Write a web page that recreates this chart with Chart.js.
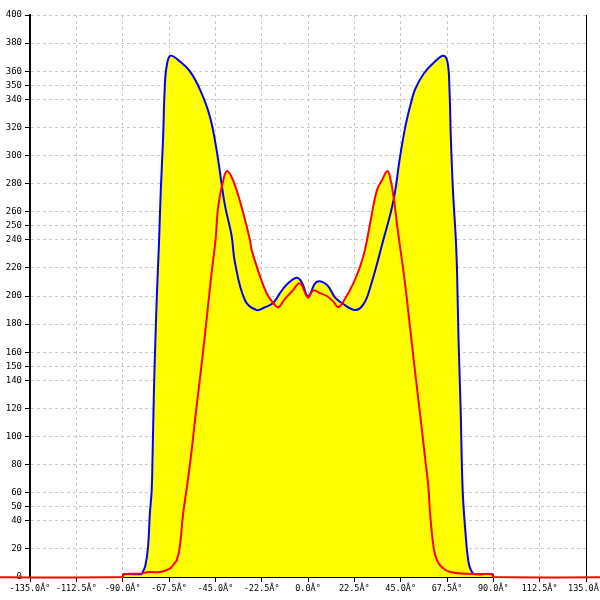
<!DOCTYPE html>
<html>
<head>
<meta charset="utf-8">
<script src="https://cdn.jsdelivr.net/npm/chart.js@4"></script>
<style>
    body { margin: 0; background: #fff; }
    #chart { display: block; }
</style>
</head>
<body>
<canvas id="chart" width="600" height="600"></canvas>
<script>
// blue curve (angle in degrees / value)
const blueAngles = [-90, -89.5, -81, -80.3, -79, -77.7, -76.8, -75.9, -75.5, -74.8, -74.1, -73.3, -72.3, -71.5, -70.4, -69.6, -68.7, -66.8,
    -62.3, -57.4, -52.5, -47.7, -44.4, -40.4, -37.1, -35.5, -30.6, -25, -20.9, -16.9, -13.6, -10.4, -5.5, -3.1, 0.1,
    4.2, 9.1, 13.1, 16.4, 22.9, 26.9, 30.2, 36.6, 41.5, 44.7, 47.2, 49.6, 52, 56.1, 61, 65.8, 67.8, 68.7, 69.4, 70.4,
    71.8, 72.4, 73.1, 74.1, 75.1, 76.4, 78, 79.6, 81, 89.5, 90]
const blueValues = [0, 2, 2, 3.5, 8, 21, 45, 62, 85, 133, 169, 204, 240, 275, 311, 347, 363, 371,
    367, 360, 347, 328, 304, 265, 243, 224, 197, 190, 192, 195, 202, 208, 213, 210, 200,
    210, 208, 199, 195, 190, 194, 206, 240, 268, 299, 320, 335, 347, 358, 366, 371, 366, 347, 311, 275,
    240, 216, 169, 121, 62, 33, 10, 3.5, 2, 2, 0]

// red curve
const redAngles = [-180, -90, -89.5, -81.7, -76.8, -72, -67.1, -64.7, -63.7, -62.3, -60.65, -59, -57, -54.6, -52.1, -49.7,
    -47.3, -44.9, -43.6, -41.2, -39.3, -36.3, -32.2, -28.2, -27.4, -23.3, -20.1, -16.9, -14.4, -11.2, -7.9, -3.9, -0.1,
    2.6, 5.8, 9.1, 12.3, 14.7, 18, 22, 25.3, 27.7, 30.2, 33.4, 35.8, 38.6, 40.2, 41.8, 43.4, 47.2, 49.6,
    52, 54.5, 56.9, 58.4, 59.3, 61, 62.6, 65, 69.1, 77.2, 83.7, 89.5, 90, 180]
const redValues = [0, 0, 2, 2.4, 3.5, 3.5, 6, 10, 12, 21, 45, 62, 84, 115, 146, 177,
    210, 240, 264, 282, 289, 282, 263, 240, 233, 214, 202, 195, 192, 198, 203, 209, 199,
    204, 202, 200, 196, 192, 198, 209, 221, 233, 252, 275, 282, 289, 282, 268, 249, 208, 177,
    146, 115, 84, 65, 45, 21, 12, 7, 3.5, 2.4, 2, 2, 0, 0]

const yTickValues = [0, 20, 40, 50, 60, 80, 100, 120, 140, 150, 160, 180, 200, 220, 240, 250, 260, 280, 300, 320, 340, 350, 360, 380, 400]

const toPoints = (xs, ys) => xs.map((x, i) => ({ x: x, y: ys[i] }))

const ctx = document.getElementById('chart').getContext('2d')

new Chart(ctx, {
    type: 'line',
    data: {
        datasets: [{
            data: toPoints(redAngles, redValues),
            borderColor: '#ff0000',
            backgroundColor: '#ffff00',
            borderWidth: 2,
            fill: 'origin',
            pointRadius: 0,
            tension: 0.4,
            clip: false
        }, {
            data: toPoints(blueAngles, blueValues),
            borderColor: '#0000ff',
            backgroundColor: '#ffff00',
            borderWidth: 2,
            fill: 'origin',
            pointRadius: 0,
            tension: 0.4
        }]
    },
    options: {
        responsive: false,
        animation: false,
        layout: { padding: { top: 15, right: 14, left: 0, bottom: 0 } },
        plugins: {
            legend: { display: false },
            tooltip: { enabled: false },
            filler: { propagate: false, drawTime: 'beforeDatasetsDraw' }
        },
        scales: {
            x: {
                type: 'linear',
                min: -135,
                max: 135,
                grid: {
                    color: '#c8c8c8',
                    tickColor: '#000',
                    tickLength: 5,
                    tickBorderDash: []
                },
                border: { color: '#000', width: 1, dash: [3, 3] },
                ticks: {
                    stepSize: 22.5,
                    autoSkip: false,
                    maxRotation: 0,
                    padding: 2,
                    color: '#000',
                    font: { family: 'DejaVu Sans Mono', size: 8.5 },
                    callback: v => v.toFixed(1) + 'Â°'
                },
                afterFit: scale => {
                    scale.height = 23
                    scale.paddingLeft = 0
                    scale.paddingRight = 0
                }
            },
            y: {
                min: 0,
                max: 400,
                afterBuildTicks: scale => {
                    scale.ticks = yTickValues.map(v => ({ value: v }))
                },
                grid: {
                    color: '#c8c8c8',
                    tickColor: '#000',
                    tickLength: 5,
                    tickBorderDash: []
                },
                border: { color: '#000', width: 2, dash: [3, 3] },
                ticks: {
                    padding: 3,
                    color: '#000',
                    font: { family: 'DejaVu Sans Mono', size: 9 }
                },
                afterFit: scale => {
                    scale.width = 30
                    scale.paddingTop = 0
                    scale.paddingBottom = 0
                }
            },
            y2: {
                position: 'right',
                min: 0,
                max: 400,
                ticks: { display: false },
                grid: { drawOnChartArea: false, drawTicks: false },
                border: { color: '#000', width: 1 },
                afterFit: scale => {
                    scale.width = 0
                    scale.paddingTop = 0
                    scale.paddingBottom = 0
                }
            }
        }
    }
})
</script>
</body>
</html>
